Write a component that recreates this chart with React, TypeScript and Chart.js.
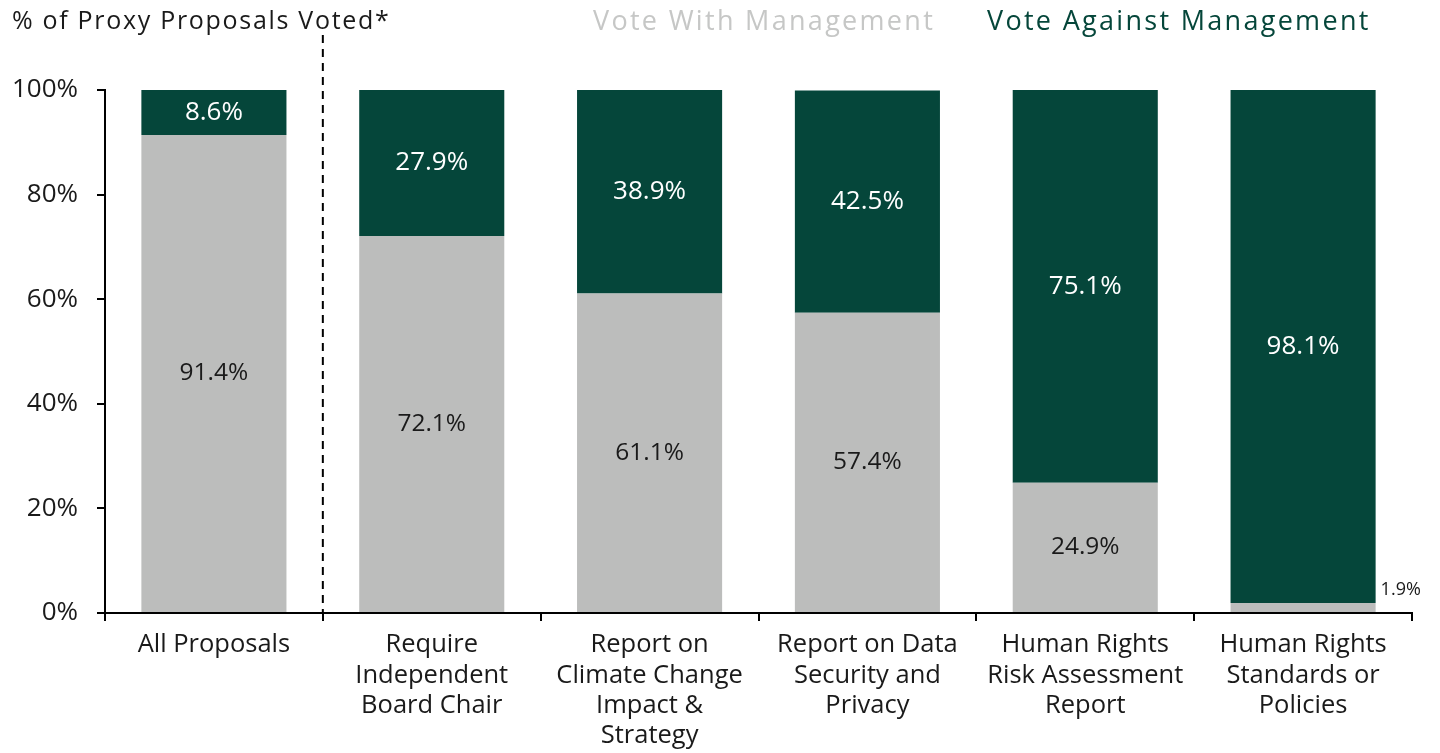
import React, { useEffect, useRef } from "react";
import { Chart, registerables } from "chart.js";

Chart.register(...registerables);

const categories: string[][] = [
  ["All Proposals"],
  ["Require", "Independent", "Board Chair"],
  ["Report on", "Climate Change", "Impact &", "Strategy"],
  ["Report on Data", "Security and", "Privacy"],
  ["Human Rights", "Risk Assessment", "Report"],
  ["Human Rights", "Standards or", "Policies"],
];
const voteWith: number[] = [91.4, 72.1, 61.1, 57.4, 24.9, 1.9];
const voteAgainst: number[] = [8.6, 27.9, 38.9, 42.5, 75.1, 98.1];
const yTicks: number[] = [0, 20, 40, 60, 80, 100];
const seriesNames: string[] = ["Vote With Management", "Vote Against Management"];
const titleText = "% of Proxy Proposals Voted*";

const GREEN = "#05463a";
const GREY = "#bcbdbc";
const LEGEND_GREY = "#c6c7c6";
const TEXT = "#1a1a1a";
const FONT = "'Open Sans', sans-serif";

const overlayPlugin = {
  id: "overlay",
  afterDatasetsDraw(chart: any) {
    const ctx = chart.ctx;
    const xs = chart.scales.x;
    const area = chart.chartArea;
    ctx.save();
    // dashed separator after first category
    const sepX = (xs.getPixelForValue(0) + xs.getPixelForValue(1)) / 2;
    ctx.strokeStyle = "#000";
    ctx.lineWidth = 2;
    ctx.setLineDash([8, 6]);
    ctx.beginPath();
    ctx.moveTo(sepX, 35);
    ctx.lineTo(sepX, area.bottom);
    ctx.stroke();
    ctx.setLineDash([]);

    // data labels
    chart.data.datasets.forEach((ds: any, di: number) => {
      const meta = chart.getDatasetMeta(di);
      meta.data.forEach((bar: any, i: number) => {
        const v = ds.data[i];
        const label = v.toFixed(1) + "%";
        const props = bar.getProps(["x", "y", "base", "width"], true);
        if (v < 5) {
          ctx.font = `400 18px ${FONT}`;
          ctx.fillStyle = TEXT;
          ctx.textAlign = "left";
          ctx.textBaseline = "middle";
          ctx.fillText(label, props.x + props.width / 2 + 5, props.y - 13);
          return;
        }
        const cy = (props.y + props.base) / 2;
        if (di === 1) {
          ctx.font = `500 26px ${FONT}`;
          ctx.fillStyle = "#ffffff";
        } else {
          ctx.font = `400 24.5px ${FONT}`;
          ctx.fillStyle = TEXT;
        }
        ctx.textAlign = "center";
        ctx.textBaseline = "middle";
        ctx.fillText(label, props.x, cy);
      });
    });

    // title + legend
    ctx.textBaseline = "middle";
    ctx.textAlign = "left";
    ctx.font = `400 25px ${FONT}`;
    ctx.fillStyle = TEXT;
    (ctx as any).letterSpacing = "1.7px";
    ctx.fillText(titleText, 12, 22);
    ctx.font = `500 27px ${FONT}`;
    (ctx as any).letterSpacing = "2.3px";
    ctx.fillStyle = LEGEND_GREY;
    ctx.fillText(seriesNames[0], 593, 22);
    ctx.fillStyle = GREEN;
    ctx.fillText(seriesNames[1], 987, 22);
    (ctx as any).letterSpacing = "0px";
    ctx.restore();
  },
};

export default function App() {
  const ref = useRef<HTMLCanvasElement | null>(null);
  useEffect(() => {
    document.body.style.margin = "0";
    if (!ref.current) return;
    const chart = new Chart(ref.current, {
      type: "bar",
      data: {
        labels: categories,
        datasets: [
          {
            label: seriesNames[0],
            data: voteWith,
            backgroundColor: GREY,
            barPercentage: 0.666,
            categoryPercentage: 1,
          },
          {
            label: seriesNames[1],
            data: voteAgainst,
            backgroundColor: GREEN,
            barPercentage: 0.666,
            categoryPercentage: 1,
          },
        ],
      },
      options: {
        animation: false,
        responsive: false,
        maintainAspectRatio: false,
        layout: { padding: { top: 90, right: 28, left: 0, bottom: 0 } },
        plugins: {
          legend: { display: false },
          tooltip: { enabled: false },
          title: { display: false },
        },
        scales: {
          x: {
            stacked: true,
            afterFit: (s: any) => {
              s.height = 140;
            },
            grid: {
              offset: true,
              drawOnChartArea: false,
              drawTicks: true,
              tickLength: 8,
              tickColor: "#000",
              tickWidth: 2,
              lineWidth: 2,
            },
            border: { display: true, color: "#000", width: 2 },
            ticks: {
              color: TEXT,
              font: { family: FONT, size: 25.5, weight: "400", lineHeight: 1.19 },
              padding: 9,
              maxRotation: 0,
              autoSkip: false,
            },
          },
          y: {
            stacked: true,
            min: 0,
            max: 100,
            afterFit: (s: any) => {
              s.width = 105;
            },
            afterBuildTicks: (s: any) => {
              s.ticks = yTicks.map((v) => ({ value: v }));
            },
            grid: {
              drawOnChartArea: false,
              drawTicks: true,
              tickLength: 8,
              tickColor: "#000",
              tickWidth: 2,
              lineWidth: 2,
            },
            border: { display: true, color: "#000", width: 2 },
            ticks: {
              color: TEXT,
              font: { family: FONT, size: 26, weight: "400" },
              padding: 19,
              callback: (v: any) => v + "%",
            },
          },
        },
      },
      plugins: [overlayPlugin],
    });
    return () => chart.destroy();
  }, []);
  return (
    <div style={{ position: "relative", width: 1440, height: 753 }}>
      <canvas ref={ref} width={1440} height={753} style={{ width: 1440, height: 753 }} />
    </div>
  );
}
